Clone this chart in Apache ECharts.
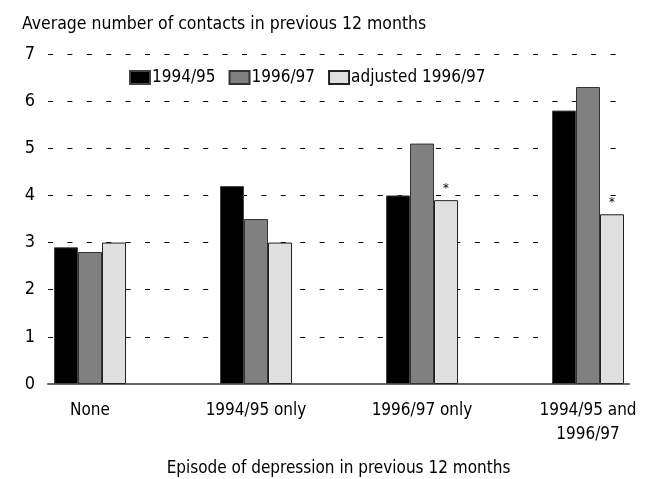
<!DOCTYPE html>
<html>
<head>
<meta charset="utf-8">
<script src="https://cdn.jsdelivr.net/npm/echarts@6/dist/echarts.min.js"></script>
<style>
  html, body { margin: 0; padding: 0; background: #fff; }
  #chart { width: 651px; height: 479px; }
</style>
</head>
<body>
<div id="chart"></div>
<script>
const categories = ['None', '1994/95 only', '1996/97 only', '1994/95 and\n1996/97']
const seriesNames = ['1994/95', '1996/97', 'adjusted 1996/97']
const values9495 = [2.9, 4.2, 4.0, 5.8]
const values9697 = [2.8, 3.5, 5.1, 6.3]
const valuesAdjusted = [3.0, 3.0, 3.9, 3.6]
const adjustedMarks = ['', '', '*', '*']

const font = "'Liberation Sans Narrow', 'DejaVu Sans Condensed', sans-serif"
const chart = echarts.init(document.getElementById('chart'))

// background grid carries the y axis, dashed lines and baseline;
// the bars sit in a narrower grid so the groups line up with the original
chart.setOption({
  animation: false,
  textStyle: { fontFamily: font, color: '#000' },
  title: {
    text: 'Average number of contacts in previous 12 months',
    left: 17,
    top: 10,
    textStyle: { fontFamily: font, fontSize: 17.5, fontWeight: 'normal', color: '#000' }
  },
  legend: {
    left: 129,
    top: 69,
    padding: 0,
    icon: 'rect',
    itemWidth: 20,
    itemHeight: 13,
    itemGap: 13,
    textStyle: { fontFamily: font, fontSize: 17, color: '#000', padding: [0, 0, 0, -3] },
    data: seriesNames
  },
  grid: [
    { left: 48, right: 22, top: 54, bottom: 95, outerBoundsMode: 'none' },
    { left: 90, right: 63, top: 54, bottom: 95, outerBoundsMode: 'none' }
  ],
  xAxis: [
    {
      gridIndex: 0,
      type: 'category',
      data: categories,
      axisLine: { lineStyle: { color: '#666', width: 2 } },
      axisTick: { show: false },
      axisLabel: { show: false },
      name: 'Episode of depression in previous 12 months',
      nameLocation: 'middle',
      nameGap: 76,
      nameTextStyle: { fontFamily: font, fontSize: 17, color: '#000' }
    },
    {
      gridIndex: 1,
      type: 'category',
      boundaryGap: false,
      data: categories,
      axisLine: { show: false },
      axisTick: { show: false },
      axisLabel: { fontFamily: font, fontSize: 17, color: '#000', margin: 15, lineHeight: 24 }
    }
  ],
  yAxis: [
    {
      gridIndex: 0,
      type: 'value',
      min: 0,
      max: 7,
      interval: 1,
      axisLine: { show: false },
      axisTick: { show: false },
      axisLabel: { fontFamily: font, fontSize: 18, color: '#000', margin: 13 },
      splitLine: { lineStyle: { color: '#000', type: [5, 14.4], width: 1 } }
    },
    {
      gridIndex: 1,
      type: 'value',
      min: 0,
      max: 7,
      interval: 1,
      show: false,
      splitLine: { show: false }
    }
  ],
  series: [
    {
      name: seriesNames[0],
      type: 'bar',
      xAxisIndex: 1,
      yAxisIndex: 1,
      barWidth: 24,
      barGap: '0%',
      data: values9495,
      itemStyle: { color: '#000', borderColor: '#444', borderWidth: 1 }
    },
    {
      name: seriesNames[1],
      type: 'bar',
      xAxisIndex: 1,
      yAxisIndex: 1,
      barWidth: 24,
      barGap: '0%',
      data: values9697,
      itemStyle: { color: '#808080', borderColor: '#333', borderWidth: 1 }
    },
    {
      name: seriesNames[2],
      type: 'bar',
      xAxisIndex: 1,
      yAxisIndex: 1,
      barWidth: 24,
      barGap: '0%',
      data: valuesAdjusted.map((v, i) => ({
        value: v,
        label: {
          show: adjustedMarks[i] !== '',
          position: 'top',
          distance: 5,
          formatter: adjustedMarks[i],
          fontFamily: font,
          fontSize: 13,
          color: '#000'
        }
      })),
      itemStyle: { color: '#e0e0e0', borderColor: '#222', borderWidth: 1 }
    }
  ]
})
</script>
</body>
</html>
